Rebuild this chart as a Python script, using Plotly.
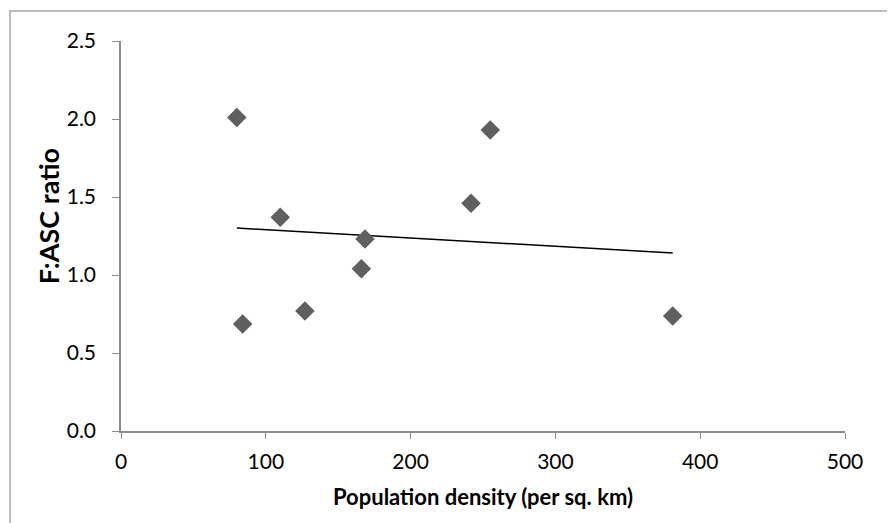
import numpy as np
import plotly.graph_objects as go

density = [80, 84, 110, 127, 166, 168.5, 241.7, 255, 381]
ratio = [2.01, 0.686, 1.37, 0.77, 1.04, 1.23, 1.46, 1.93, 0.737]

x_ticks = [0, 100, 200, 300, 400, 500]
y_ticks = [0.0, 0.5, 1.0, 1.5, 2.0, 2.5]

slope, intercept = np.polyfit(density, ratio, 1)
tx = [min(density), max(density)]
ty = [slope * v + intercept for v in tx]

fig = go.Figure()
fig.add_trace(go.Scatter(x=tx, y=ty, mode="lines",
                         line=dict(color="black", width=1.5),
                         showlegend=False, hoverinfo="skip"))
fig.add_trace(go.Scatter(x=density, y=ratio, mode="markers",
                         marker=dict(symbol="diamond", size=15, color="#5f5f5f",
                                     line=dict(width=0)),
                         showlegend=False))

font = "Lato, 'Open Sans', sans-serif"
fig.update_layout(
    width=887, height=515,
    margin=dict(l=113, r=50, t=33, b=92),
    paper_bgcolor="white", plot_bgcolor="white",
    font=dict(family=font, size=21, color="black"),
    xaxis=dict(range=[0, 500], tickvals=x_ticks, showgrid=False, zeroline=False,
               showline=True, linecolor="#8c8c8c", linewidth=1.5,
               ticks="outside", ticklen=6, tickcolor="#8c8c8c",
               ticklabelstandoff=5,
               title=dict(text="<b>Population density (per sq. km)</b>",
                          font=dict(size=22), standoff=18)),
    yaxis=dict(range=[0, 2.5], tickvals=y_ticks, tickformat=".1f", showgrid=False,
               zeroline=False, showline=True, linecolor="#8c8c8c", linewidth=1.5,
               ticks="outside", ticklen=7, tickcolor="#8c8c8c",
               ticklabelstandoff=12),
    annotations=[dict(text="<b>F:ASC ratio</b>", xref="paper", yref="paper",
                      x=-0.1008, y=0.551, textangle=-90, showarrow=False,
                      xanchor="center", yanchor="middle",
                      font=dict(size=27))],
    shapes=[dict(type="rect", xref="paper", yref="paper",
                 x0=-0.1533, x1=1.3, y0=-0.4, y1=1.0769,
                 line=dict(color="#a6a6a6", width=1.5), fillcolor="rgba(0,0,0,0)",
                 layer="below")],
)

fig.write_html("out.html")
